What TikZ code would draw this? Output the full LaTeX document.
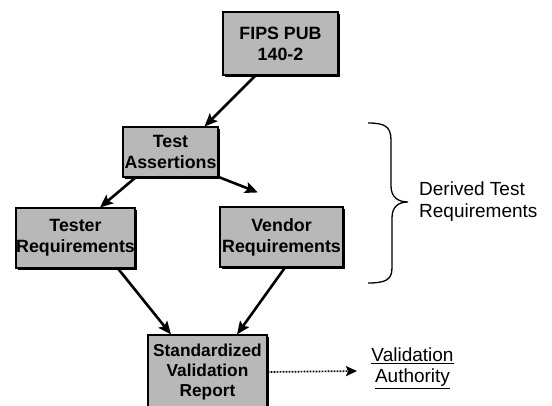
\documentclass[tikz,border=0pt]{standalone}
\usepackage{fontspec}
\setmainfont{Liberation Sans}
\usetikzlibrary{arrows.meta,shadows}
\newcommand{\thickul}[1]{\setbox0\hbox{#1}\vtop{\copy0\kern1.6pt\hrule height 1.1pt width \wd0}}
\begin{document}
\begin{tikzpicture}[x=1pt,y=-1pt,
  box/.style={draw=black,line width=1.1pt,fill=black!28,inner sep=0pt,align=center,
    font=\fontsize{17.8}{21}\selectfont\bfseries,
    drop shadow={shadow xshift=1.6pt,shadow yshift=-1.6pt,fill=black,opacity=1}},
  arr/.style={line width=2.6pt,-{Stealth[length=13pt,width=11pt,inset=2.5pt]}},
  dotarr/.style={line width=1.7pt,dash pattern=on 1.8pt off 1.2pt,-{Stealth[length=11pt,width=10pt,inset=2pt]}},
  lbl/.style={inner sep=0pt,font=\fontsize{19}{22}\selectfont}]
\useasboundingbox[fill=white] (0,0) rectangle (552,405);
\node[box,minimum width=115pt,minimum height=63pt] (fips) at (280.5,43.5) {FIPS PUB\\140-2};
\node[box,minimum width=95pt,minimum height=50pt] (ta) at (170.5,152) {Test\\Assertions};
\node[box,minimum width=119pt,minimum height=60pt] (tester) at (75.5,238) {Tester\\Requirements};
\node[box,minimum width=123pt,minimum height=60pt] (vendor) at (281.5,237) {Vendor\\Requirements};
\node[box,minimum width=119pt,minimum height=74pt,font=\fontsize{17.3}{20}\selectfont\bfseries] (svr) at (207.5,372) {Standardized\\Validation\\Report};
\node[lbl,align=center] (va) at (412.5,368) {\thickul{Validation}\\[-1pt]\thickul{Authority}};
\node[lbl,align=left,anchor=west] (dtr) at (419,202) {Derived Test\\Requirements};
\coordinate (vatip) at (357,371);
\draw[arr] ([xshift=-25pt]fips.south) -- ([xshift=34pt]ta.north);
\draw[arr] ([xshift=-35pt]ta.south) -- ([xshift=24.5pt]tester.north);
\draw[arr] ([xshift=47pt,yshift=1pt]ta.south) -- ([xshift=-23.5pt,yshift=14pt]vendor.north);
\draw[arr] ([xshift=42.5pt]tester.south) -- ([xshift=-36.5pt]svr.north);
\draw[arr] ([xshift=3.5pt]vendor.south) -- ([xshift=29.5pt]svr.north);
\draw[dotarr] (svr.east) -- (vatip);
\draw[line width=1.3pt] (368,123) .. controls (384,123) and (391,126) .. (391,140)
  -- (391,186) .. controls (391,197) and (398,202) .. (408,202)
  .. controls (398,202) and (392,207) .. (392,218)
  -- (392,268) .. controls (392,280) and (385,283) .. (368,283);
\end{tikzpicture}
\end{document}
